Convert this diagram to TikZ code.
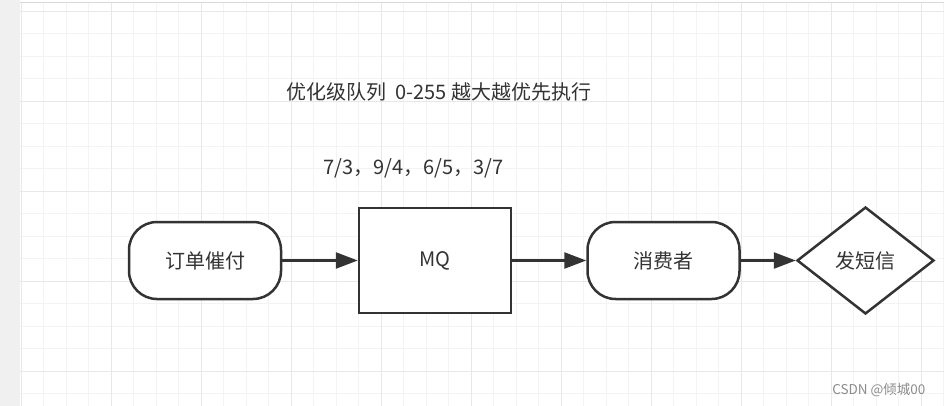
\documentclass[tikz,border=0pt]{standalone}
\usepackage{fontspec}
\setmainfont{Noto Sans CJK SC}
\usetikzlibrary{shapes.geometric,arrows.meta}
\definecolor{ink}{HTML}{333333}
\definecolor{gridminor}{HTML}{F3F3F3}
\definecolor{gridmajor}{HTML}{E8E8E8}
\definecolor{strip}{HTML}{F0F0F0}
\tikzset{
  every node/.style={text=ink, font=\fontsize{20}{23}\selectfont},
  term/.style={draw=ink, line width=2.5pt, rounded corners=28pt, fill=white,
    minimum width=152pt, minimum height=77pt, inner sep=0pt},
  boxnode/.style={draw=ink, line width=2.5pt, fill=white,
    minimum width=152pt, minimum height=105pt, inner sep=0pt},
  decide/.style={draw=ink, line width=2.5pt, diamond, aspect=1.28, fill=white,
    minimum width=137pt, minimum height=107pt, inner sep=0pt},
  flow/.style={draw=ink, line width=2.5pt, -{Triangle[length=22pt,width=16pt]}},
}
\begin{document}
\begin{tikzpicture}[x=1pt,y=-1pt]
\useasboundingbox (0,0) rectangle (944,406);
\fill[white] (0,0) rectangle (944,406);
\fill[strip] (0,0) rectangle (20,406);
% grid
\foreach \k in {0,...,41} {
  \pgfmathsetmacro{\xx}{21+22.5*\k}
  \draw[gridminor, line width=0.8pt] (\xx,3) -- (\xx,406);
}
\foreach \k in {0,...,17} {
  \pgfmathsetmacro{\yy}{11+22.5*\k}
  \draw[gridminor, line width=0.8pt] (20,\yy) -- (944,\yy);
}
\foreach \k in {0,...,10} {
  \pgfmathsetmacro{\xx}{21+90*\k}
  \draw[gridmajor, line width=0.8pt] (\xx,3) -- (\xx,406);
}
\foreach \k in {0,...,4} {
  \pgfmathsetmacro{\yy}{11+90*\k}
  \draw[gridmajor, line width=0.8pt] (20,\yy) -- (944,\yy);
}
\draw[black!15, line width=1pt] (20,3) -- (944,3);

% texts
\node[anchor=west] (title) at (283,92) {优化级队列~~0-255 越大越优先执行};
\node[anchor=west] (prio) at (320,168) {7/3，9/4，6/5，3/7};

% nodes
\node[term] (order) at (205,260.5) {订单催付};
\node[boxnode] (mq) at (435,260.5) {MQ};
\node[term] (cons) at (663.5,260.5) {消费者};
\node[decide] (sms) at (865.5,260.5) {发短信};

\draw[flow] (order) -- (mq);
\draw[flow] (mq) -- (cons);
\draw[flow] (cons) -- (sms);

\node[anchor=east, text=black!45, font=\fontsize{13.5}{15}\selectfont] (wm) at (929,390) {CSDN @倾城00};
\end{tikzpicture}
\end{document}
